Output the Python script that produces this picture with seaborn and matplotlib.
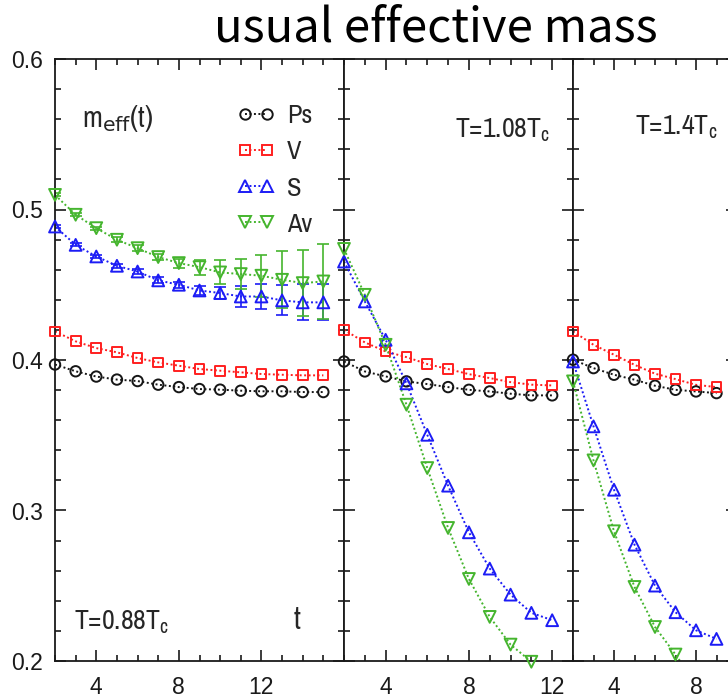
import numpy as np
import matplotlib
matplotlib.use("Agg")
import matplotlib.pyplot as plt
import seaborn as sns
from matplotlib.ticker import MultipleLocator, FixedLocator
from matplotlib.lines import Line2D

# ---------------- data: effective masses m_eff(t) per channel ----------------
channels = ["Ps", "V", "S", "Av"]

# T = 0.88 Tc
t_low = [2, 3, 4, 5, 6, 7, 8, 9, 10, 11, 12, 13, 14, 15]
ps_low = [0.3970, 0.3925, 0.3890, 0.3870, 0.3860, 0.3836, 0.3820, 0.3807, 0.3803, 0.3796, 0.3792, 0.3792, 0.3787, 0.3787]
v_low = [0.4190, 0.4124, 0.4079, 0.4051, 0.4013, 0.3984, 0.3962, 0.3940, 0.3929, 0.3918, 0.3907, 0.3902, 0.3898, 0.3898]
s_low = [0.4887, 0.4765, 0.4688, 0.4626, 0.4588, 0.4529, 0.4500, 0.4462, 0.4445, 0.4422, 0.4422, 0.4396, 0.4383, 0.4383]
av_low = [0.5097, 0.4965, 0.4876, 0.4799, 0.4743, 0.4684, 0.4644, 0.4617, 0.4582, 0.4571, 0.4560, 0.4533, 0.4511, 0.4522]
s_low_err = [0.001, 0.001, 0.001, 0.0015, 0.0015, 0.002, 0.002, 0.003, 0.004, 0.007, 0.008, 0.010, 0.012, 0.012]
av_low_err = [0.001, 0.001, 0.001, 0.0015, 0.002, 0.002, 0.003, 0.005, 0.008, 0.010, 0.014, 0.019, 0.022, 0.025]

# T = 1.08 Tc
t_mid = [2, 3, 4, 5, 6, 7, 8, 9, 10, 11, 12]
ps_mid = [0.3990, 0.3924, 0.3891, 0.3858, 0.3840, 0.3820, 0.3802, 0.3791, 0.3776, 0.3765, 0.3765]
v_mid = [0.4201, 0.4117, 0.4057, 0.4019, 0.3973, 0.3940, 0.3906, 0.3880, 0.3853, 0.3836, 0.3831]
s_mid = [0.4654, 0.4389, 0.4134, 0.3845, 0.3503, 0.3165, 0.2855, 0.2614, 0.2441, 0.2320, 0.2271]
av_mid = [0.4738, 0.4433, 0.4101, 0.3703, 0.3282, 0.2884, 0.2545, 0.2293, 0.2109, 0.1995, np.nan]

# T = 1.4 Tc
t_high = [2, 3, 4, 5, 6, 7, 8, 9]
ps_high = [0.4002, 0.3946, 0.3902, 0.3869, 0.3829, 0.3802, 0.3791, 0.3780]
v_high = [0.4190, 0.4101, 0.4035, 0.3968, 0.3909, 0.3873, 0.3835, 0.3820]
s_high = [0.3990, 0.3559, 0.3138, 0.2773, 0.2501, 0.2324, 0.2204, 0.2147]
av_high = [0.3858, 0.3333, 0.2862, 0.2492, 0.2226, 0.2043, 0.1850, np.nan]

temperatures = ["T=0.88T$_c$", "T=1.08T$_c$", "T=1.4T$_c$"]
x_limits = [(2, 16), (2, 13), (2, 10)]
y_limits = (0.2, 0.6)

# ---------------- style ----------------
sns.set_theme(style="ticks")
plt.rcParams["font.family"] = ["Liberation Sans", "DejaVu Sans"]
plt.rcParams["mathtext.default"] = "regular"
narrow = ["Archivo Narrow", "Liberation Sans", "DejaVu Sans"]

colors = {"Ps": "#161616", "V": "#ff1f1f", "S": "#1c1cf5", "Av": "#45b52e"}
markers = {"Ps": "o", "V": "s", "S": "^", "Av": "v"}
msize = {"Ps": 7.5, "V": 7.0, "S": 8.5, "Av": 8.5}
dots = (0, (1.0, 1.3))

fig = plt.figure(figsize=(7.28, 7.0), dpi=100)
W, H = 728.0, 700.0
edges = [(55, 344), (344, 573), (573, 737)]
y_top, y_bot = 59, 661
axes = [fig.add_axes([x0 / W, (H - y_bot) / H, (x1 - x0) / W, (y_bot - y_top) / H])
        for x0, x1 in edges]

panels = [
    (t_low, {"Ps": ps_low, "V": v_low, "S": s_low, "Av": av_low},
     {"S": s_low_err, "Av": av_low_err}),
    (t_mid, {"Ps": ps_mid, "V": v_mid, "S": s_mid, "Av": av_mid}, {}),
    (t_high, {"Ps": ps_high, "V": v_high, "S": s_high, "Av": av_high}, {}),
]

for ax, (t, series, errs), xl in zip(axes, panels, x_limits):
    t = np.asarray(t, dtype=float)
    for ch in channels:
        y = np.asarray(series[ch], dtype=float)
        c = colors[ch]
        ok = ~np.isnan(y)
        # dotted connecting line (clipped to the frame)
        sns.lineplot(x=t[ok], y=y[ok], ax=ax, color=c, linestyle=dots,
                     linewidth=1.4, estimator=None, sort=False, legend=False)
        # error bars where they are resolvable
        if ch in errs:
            e = np.asarray(errs[ch], dtype=float)
            ax.errorbar(t, y, yerr=e, fmt="none", ecolor=c,
                        elinewidth=1.2, capsize=4.5, capthick=1.2)
        # open symbols, kept whole on the frame edges
        vis = ok & (y >= y_limits[0] - 0.003)
        sns.scatterplot(x=t[vis], y=y[vis], ax=ax, marker=markers[ch],
                        s=msize[ch] ** 2, facecolors="none", edgecolor=c,
                        linewidth=1.4, clip_on=False, zorder=4, legend=False)

    ax.set_xlim(*xl)
    ax.set_ylim(*y_limits)
    ax.xaxis.set_major_locator(FixedLocator([4, 8, 12]))
    ax.xaxis.set_minor_locator(MultipleLocator(1))
    ax.yaxis.set_major_locator(MultipleLocator(0.1))
    ax.yaxis.set_minor_locator(MultipleLocator(0.02))
    ax.tick_params(which="both", direction="in", top=True, right=True,
                   colors="#1a1a1a", width=1.2, labelsize=16.5)
    ax.tick_params(which="major", length=8)
    ax.tick_params(which="minor", length=4.5)
    ax.tick_params(axis="x", pad=11)
    ax.tick_params(axis="y", pad=9)
    ax.set_xlabel("")
    ax.set_ylabel("")
    for sp in ax.spines.values():
        sp.set_linewidth(1.3)
        sp.set_color("#1a1a1a")

for ax in axes[1:]:
    ax.tick_params(labelleft=False)

# panel annotations
axes[0].text(0.093, 0.887, r"m$_{\mathrm{eff}}$(t)", transform=axes[0].transAxes,
             fontsize=21, ha="left", va="baseline", family=narrow)
axes[0].text(0.066, 0.053, temperatures[0], transform=axes[0].transAxes,
             fontsize=20, ha="left", va="baseline", family=narrow)
axes[0].text(0.837, 0.053, "t", transform=axes[0].transAxes,
             fontsize=22, ha="center", va="baseline", family=narrow)
axes[1].text(0.90, 0.870, temperatures[1], transform=axes[1].transAxes,
             fontsize=20, ha="right", va="baseline", family=narrow)
axes[2].text(0.878, 0.875, temperatures[2], transform=axes[2].transAxes,
             fontsize=20, ha="right", va="baseline", family=narrow)

# legend: symbol - dots - symbol
handles = [Line2D([0], [0], color=colors[ch], linestyle=dots, linewidth=1.4,
                  marker=markers[ch], ms=msize[ch], mfc="none", mec=colors[ch],
                  mew=1.4) for ch in channels]
axes[0].legend(handles, channels, loc="upper left", bbox_to_anchor=(0.63, 0.925),
               frameon=False, numpoints=2, handlelength=1.45,
               handletextpad=0.45, labelspacing=0.5, borderpad=0,
               borderaxespad=0, prop={"family": narrow, "size": 19})

fig.text(436 / W, 1 - 42 / H, "usual effective mass", ha="center", va="baseline",
         fontsize=34, family=["Noto Sans CJK JP", "DejaVu Sans"], color="black")

fig.savefig("out.png", dpi=100)
